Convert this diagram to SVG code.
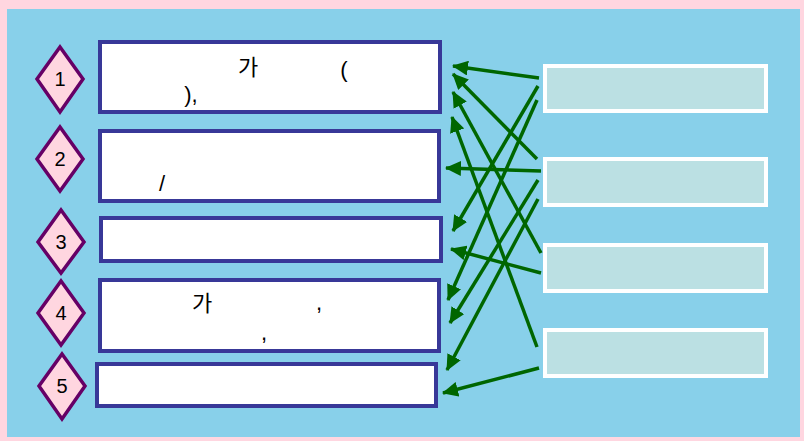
<svg xmlns="http://www.w3.org/2000/svg" width="804" height="441" viewBox="0 0 804 441">
<defs>
<marker id="ah" markerUnits="userSpaceOnUse" markerWidth="17" markerHeight="15" viewBox="0 0 17 15" refX="15" refY="7.5" orient="auto">
<path d="M0,0 L16,7.5 L0,15 Z" fill="#006600"/>
</marker>
<style>
.lbox{fill:#ffffff;stroke:#383898;stroke-width:4}
.rbox{fill:#bbe0e3;stroke:#ffffff;stroke-width:4}
.dia{fill:#ffd6e0;stroke:#660066;stroke-width:3.5}
.num{font-family:"Liberation Sans",Arial,sans-serif;font-size:20px;fill:#000;text-anchor:middle}
.t{font-family:"Liberation Sans","Noto Sans CJK KR",sans-serif;font-size:22px;fill:#000;text-anchor:middle}
.c line{stroke:#006600;stroke-width:3.5;marker-end:url(#ah)}
</style>
</defs>
<rect x="0" y="0" width="804" height="441" fill="#ffd6e0"/>
<rect x="7" y="9" width="793" height="428" fill="#88d0ea"/>

<g id="d1"><polygon class="dia" points="60,47 83,79 60,112 37,79"/><text class="num" x="60" y="86">1</text></g>
<g id="d2"><polygon class="dia" points="60,127 83,159 60,191 37,159"/><text class="num" x="60" y="166">2</text></g>
<g id="d3"><polygon class="dia" points="61,210 84,242 61,273 38,242"/><text class="num" x="61" y="249">3</text></g>
<g id="d4"><polygon class="dia" points="61,281 84,313 61,345 38,313"/><text class="num" x="61" y="320">4</text></g>
<g id="d5"><polygon class="dia" points="62,354 85,386 62,419 39,386"/><text class="num" x="62" y="393">5</text></g>

<g id="l1"><rect class="lbox" x="100" y="42" width="340" height="70"/>
<text class="t" x="248" y="75">가</text><text class="t" x="344" y="77">(</text><text class="t" x="191" y="102">),</text></g>
<g id="l2"><rect class="lbox" x="100" y="131" width="339" height="70"/>
<text class="t" x="162" y="191">/</text></g>
<g id="l3"><rect class="lbox" x="101" y="218" width="340" height="43"/></g>
<g id="l4"><rect class="lbox" x="100" y="280" width="339" height="71"/>
<text class="t" x="202" y="311">가</text><text class="t" x="319" y="310">,</text><text class="t" x="264" y="340">,</text></g>
<g id="l5"><rect class="lbox" x="97" y="364" width="339" height="42"/></g>

<g id="r1"><rect class="rbox" x="545" y="66" width="221" height="45"/></g>
<g id="r2"><rect class="rbox" x="545" y="159" width="221" height="46"/></g>
<g id="r3"><rect class="rbox" x="545" y="245" width="221" height="46"/></g>
<g id="r4"><rect class="rbox" x="545" y="330" width="221" height="46"/></g>

<g id="connectors" class="c">
<line x1="539" y1="78" x2="453" y2="66"/>
<line x1="538" y1="86" x2="453" y2="231"/>
<line x1="537" y1="100" x2="448" y2="300"/>
<line x1="537" y1="159" x2="453" y2="74"/>
<line x1="541" y1="171" x2="446" y2="168"/>
<line x1="538" y1="180" x2="450" y2="323"/>
<line x1="538" y1="199" x2="447" y2="370"/>
<line x1="541" y1="253" x2="453" y2="92"/>
<line x1="541" y1="273" x2="451" y2="249"/>
<line x1="537" y1="347" x2="452" y2="117"/>
<line x1="539" y1="368" x2="443" y2="393"/>
</g>
</svg>
